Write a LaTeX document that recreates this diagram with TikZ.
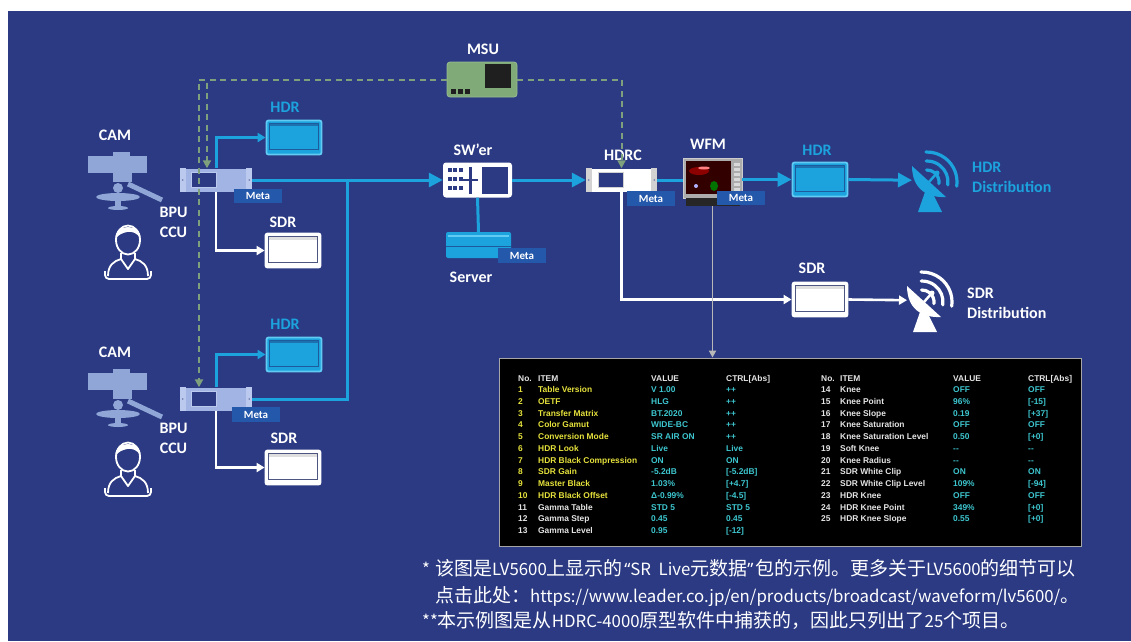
\documentclass[tikz,border=0pt]{standalone}
\usepackage{fontspec}
\setmainfont{Carlito}
\newfontfamily\cjkfont{Noto Sans CJK SC}
\newfontfamily\quotefont{Noto Sans}
\newfontfamily\tabfont{Liberation Sans}
\usetikzlibrary{arrows.meta,calc}

\definecolor{bgnavy}{HTML}{2B3A82}
\definecolor{hdrcyan}{HTML}{1CA3DD}
\definecolor{hdrrim}{HTML}{62CBF3}
\definecolor{hdrdark}{HTML}{1D5C9C}
\definecolor{msugreen}{HTML}{80AA77}
\definecolor{dashgreen}{HTML}{7FA07C}
\definecolor{bpublue}{HTML}{A2B4E4}
\definecolor{bpuend}{HTML}{BCC9EE}
\definecolor{metablue}{HTML}{2458AA}
\definecolor{camblue}{HTML}{90A6D6}
\definecolor{tabyellow}{HTML}{E6E23C}
\definecolor{tabcyan}{HTML}{3DC6CF}
\definecolor{tabwhite}{HTML}{E4E4E4}
\definecolor{wiregrey}{HTML}{B8B8B8}

% Latin runs and quotes inside the Chinese footnotes
\newcommand\lat[1]{{\fontsize{16.8}{20}\selectfont #1}}
\newcommand\oq{{\quotefont\fontsize{17}{20}\selectfont\hspace{1.5pt}“}}
\newcommand\cq{{\quotefont\fontsize{17}{20}\selectfont ”\hspace{1.5pt}}}

% detail drawings for the equipment nodes
\newcommand\hdrmonitor[1]{%
  \fill[hdrdark!70!hdrcyan] ($(#1.north west)+(3.5,3.5)$) rectangle ($(#1.north east)+(-3.5,6.5)$);
  \draw[hdrdark, line width=0.9] ($(#1.north west)+(3.5,3.5)$) rectangle ($(#1.south east)+(-3.5,-5.5)$);
}
\newcommand\sdrmonitor[1]{%
  \fill[gray!25] ($(#1.north west)+(3.5,3.5)$) rectangle ($(#1.north east)+(-3.5,7)$);
  \draw[bgnavy!60!gray, line width=0.9] ($(#1.north west)+(3.5,3.5)$) rectangle ($(#1.south east)+(-3.5,-5.5)$);
}
\newcommand\rackdetail[3]{% node, end colour, screen offset
  \fill[#2] (#1.north west) rectangle ($(#1.south west)+(6,0)$);
  \fill[#2] ($(#1.north east)+(-6,0)$) rectangle (#1.south east);
  \fill[bgnavy!70] ($(#1.west)+(3,0)$) circle[radius=0.9];
  \fill[bgnavy!70] ($(#1.east)+(-3,0)$) circle[radius=0.9];
  \draw[fill=bgnavy, draw=#2, line width=1] ($(#1.north west)+(#3,4)$) rectangle ($(#1.south west)+(#3+25,-4)$);
}

\tikzset{
  lbl/.style={font=\bfseries\fontsize{16}{18}\selectfont, text=white, inner sep=0},
  clbl/.style={lbl, text=hdrcyan},
  metatag/.style={fill=metablue, text=white, font=\bfseries\fontsize{11}{12}\selectfont,
    minimum width=48, minimum height=14.5, inner sep=0},
  rackbox/.style={rectangle, fill=bpublue, minimum width=72, minimum height=23, inner sep=0},
  hdrmon/.style={rectangle, fill=hdrcyan, draw=hdrrim, line width=1.8, rounded corners=2,
    minimum width=55, minimum height=34, inner sep=0},
  sdrmon/.style={rectangle, fill=white, draw=white, line width=1.8, rounded corners=2,
    minimum width=55, minimum height=34, inner sep=0},
  cyanwire/.style={draw=hdrcyan, line width=3},
  whitewire/.style={draw=white, line width=2.6},
  dashwire/.style={draw=dashgreen, line width=2, dash pattern=on 6pt off 4.5pt},
  tipbig/.style={-{Triangle[length=14pt,width=14pt]}},
  tipsmall/.style={-{Triangle[length=8pt,width=9pt]}},
  tabtxt/.style={font=\tabfont\bfseries\fontsize{8.4}{10}\selectfont, inner sep=0, anchor=base west},
  note/.style={font=\cjkfont\fontsize{19}{22}\selectfont, text=white, inner sep=0, anchor=west},
  camicon/.pic={
    \fill[camblue] (25,1) rectangle (42,6);
    \fill[camblue] (0,5) rectangle (59,22);
    \fill[camblue] (25,22) rectangle (44,31);
    \fill[camblue] (30,37) circle[radius=5];
    \draw[camblue, line width=5] (40,33) -- (74,49);
    \fill[camblue] (30,46) ellipse[x radius=22, y radius=4];
    \fill[camblue] (27,46) rectangle (33,56);
    \fill[camblue] (30,57) ellipse[x radius=10, y radius=2];
  },
  personicon/.pic={
    \draw[white, line width=1.8, fill=bgnavy] (23,18) ellipse[x radius=12, y radius=14.5];
    \fill[white] (10.5,17) .. controls (9,1) and (37,1) .. (35.5,17)
      .. controls (33,11) and (27,9) .. (22,10) .. controls (17,11) and (13,13) .. (10.5,17) -- cycle;
    \draw[white, line width=1.8] (16,31) -- (16,37) (30,31) -- (30,37);
    \draw[white, line width=1.8, line join=round] (3,54) .. controls (3,43) and (9,39) .. (16,37)
      -- (23,47) -- (30,37) .. controls (37,39) and (43,43) .. (43,54);
    \draw[white, line width=1.8, rounded corners=4] (0,49) -- (0,57) -- (46,57) -- (46,49);
  },
  antennaicon/.pic={
    \fill (0,14) .. controls (0,36) and (14,46) .. (34,45) -- cycle;
    \draw[line width=2.5] (17,30) -- (24,22);
    \fill (25,21) circle[radius=2.5];
    \fill (13,40) -- (6,60) -- (30,60) -- (22,44) -- cycle;
    \foreach \r in {12,21,30}
      \draw[line width=3.2, line cap=round] (15,30) ++(8:\r) arc[start angle=8, end angle=-92, radius=\r];
  }
}

\begin{document}
\begin{tikzpicture}[x=1pt, y=-1pt]
\useasboundingbox (0,0) rectangle (1131,641);
\fill[white] (0,0) rectangle (1131,641);
\fill[bgnavy] (8,11) rectangle (1131,641);

% ---------- cameras and operators ----------
\pic at (88,151) {camicon};
\pic at (88,368) {camicon};
\pic at (105,222) {personicon};
\pic at (105,439) {personicon};
\node[lbl] (lcam1) at (115,135) {CAM};
\node[lbl] (lcam2) at (115,352) {CAM};
\node[lbl] (lbpu1) at (173.5,212) {BPU};
\node[lbl] (lccu1) at (173.5,232) {CCU};
\node[lbl] (lbpu2) at (173.5,428) {BPU};
\node[lbl] (lccu2) at (173.5,448) {CCU};

% ---------- BPU / CCU ----------
\node[rackbox] (bpu1) at (216,180) {};
\rackdetail{bpu1}{bpuend}{12}
\node[rackbox] (bpu2) at (216,399) {};
\rackdetail{bpu2}{bpuend}{12}
\node[metatag] (meta1) at (258,196) {Meta};
\node[metatag] (meta2) at (256,414.5) {Meta};

% ---------- local monitors ----------
\node[hdrmon] (hdr1) at (294,137.5) {};
\hdrmonitor{hdr1}
\node[hdrmon] (hdr2) at (294,354.5) {};
\hdrmonitor{hdr2}
\node[sdrmon] (sdr1) at (293,250.5) {};
\sdrmonitor{sdr1}
\node[sdrmon] (sdr2) at (293,467.5) {};
\sdrmonitor{sdr2}
\node[clbl] (lhdr1) at (285,107) {HDR};
\node[clbl] (lhdr2) at (285,324) {HDR};
\node[lbl] (lsdr1) at (283,222) {SDR};
\node[lbl] (lsdr2) at (284,438) {SDR};

% ---------- MSU ----------
\node[rectangle, rounded corners=3, fill=msugreen, draw=msugreen!80!white, line width=0.8,
  minimum width=70, minimum height=35, inner sep=0] (msu) at (482,79.5) {};
\fill[black!88] (485,64) rectangle (511,88);
\foreach \k in {0,1,2} \fill[black!88] ({451+\k*7},89) rectangle ({456+\k*7},94);
\node[lbl] (lmsu) at (483,49) {MSU};

% ---------- switcher ----------
\node[rectangle, rounded corners=3, fill=white, minimum width=69, minimum height=35, inner sep=0] (sw) at (477.5,180) {};
\foreach \i in {0,1,2} \foreach \j in {0,1,2}
  \fill[bgnavy] ({448+\i*5.3},{167.5+\j*9}) rectangle ({452+\i*5.3},{171.5+\j*9});
\fill[bgnavy] (468.8,167) rectangle (471.6,194);
\fill[bgnavy] (463,178.6) rectangle (478,181.4);
\fill[bgnavy] (482,166.5) rectangle (507.5,194);
\node[lbl] (lsw) at (473,150) {SW’er};

% ---------- server ----------
\node[rectangle, rounded corners=2, fill=hdrcyan, minimum width=65, minimum height=26, inner sep=0] (srv) at (478.5,245) {};
\draw[hdrrim, line width=1.5] ($(srv.north west)+(2,4)$) -- ($(srv.north east)+(-2,4)$);
\draw[hdrdark, line width=1] ($(srv.west)+(0,1)$) -- ($(srv.east)+(0,1)$);
\node[metatag] (meta3) at (522,255.5) {Meta};
\node[lbl] (lsrv) at (471,277) {Server};

% ---------- HDRC ----------
\node[rectangle, fill=white, minimum width=71, minimum height=23, inner sep=0] (hdrc) at (621.5,180) {};
\rackdetail{hdrc}{gray!35}{13}
\node[metatag] (meta4) at (651,198.5) {Meta};
\node[lbl] (lhdrc) at (623,155) {HDRC};

% ---------- waveform monitor ----------
\node[rectangle, fill=gray!65, draw=gray!40, line width=0.8, minimum width=59, minimum height=40, inner sep=0] (wfm) at (712.5,178) {};
\fill[black!85] (686,198) rectangle (740,206);
\fill[black!80!red] (686,161) rectangle (731,194);
\fill[red!55!black] (699,171) ellipse[x radius=10, y radius=4];
\fill[red!50!white] (704,168) ellipse[x radius=6, y radius=1.5];
\fill[green!45!black] (714,186) ellipse[x radius=4, y radius=5];
\fill[white!70!blue] (696,186) circle[radius=2];
\foreach \k in {0,...,5} \fill[gray!30] (733.5,{163+\k*5}) rectangle (739.5,{166+\k*5});
\node[metatag] (meta5) at (741,198) {Meta};
\node[lbl] (lwfm) at (708,144) {WFM};

% ---------- distribution side ----------
\node[hdrmon] (hdr3) at (820,179.5) {};
\hdrmonitor{hdr3}
\node[sdrmon] (sdr3) at (820,299.5) {};
\sdrmonitor{sdr3}
\node[clbl] (lhdr3) at (817,150) {HDR};
\node[lbl] (lsdr3) at (812,268) {SDR};
\node[inner sep=0, minimum width=48, minimum height=60, anchor=north west] (ant1) at (912,150) {};
\pic[color=hdrcyan] at (912,152) {antennaicon};
\node[inner sep=0, minimum width=48, minimum height=60, anchor=north west] (ant2) at (907,270) {};
\pic[color=white] at (907,272) {antennaicon};
\node[clbl, anchor=west] (lhdrd1) at (972,167) {HDR};
\node[clbl, anchor=west] (lhdrd2) at (972,187) {Distribution};
\node[lbl, anchor=west] (lsdrd1) at (967,293) {SDR};
\node[lbl, anchor=west] (lsdrd2) at (967,313) {Distribution};

% ---------- metadata table ----------
\node[rectangle, fill=black, draw=gray!70, line width=0.8, minimum width=582, minimum height=188, inner sep=0] (tbl) at (790,452) {};
\node[tabtxt, text=tabwhite] (hn1) at (518,381) {No.};
\node[tabtxt, text=tabwhite] (hi1) at (538,381) {ITEM};
\node[tabtxt, text=tabwhite] (hv1) at (651,381) {VALUE};
\node[tabtxt, text=tabwhite] (hc1) at (726,381) {CTRL[Abs]};
\node[tabtxt, text=tabwhite] (hn2) at (821,381) {No.};
\node[tabtxt, text=tabwhite] (hi2) at (840,381) {ITEM};
\node[tabtxt, text=tabwhite] (hv2) at (953,381) {VALUE};
\node[tabtxt, text=tabwhite] (hc2) at (1028,381) {CTRL[Abs]};
\foreach \n/\itm/\va/\ct/\clr [count=\k from 0] in {
  1/Table Version/V 1.00/++/tabyellow,
  2/OETF/HLG/++/tabyellow,
  3/Transfer Matrix/BT.2020/++/tabyellow,
  4/Color Gamut/WIDE-BC/++/tabyellow,
  5/Conversion Mode/SR AIR ON/++/tabyellow,
  6/HDR Look/Live/Live/tabyellow,
  7/HDR Black Compression/ON/ON/tabyellow,
  8/SDR Gain/-5.2dB/[-5.2dB]/tabyellow,
  9/Master Black/1.03\%/[+4.7]/tabyellow,
  10/HDR Black Offset/Δ-0.99\%/[-4.5]/tabyellow,
  11/Gamma Table/STD 5/STD 5/tabwhite,
  12/Gamma Step/0.45/0.45/tabwhite,
  13/Gamma Level/0.95/[-12]/tabwhite}{
  \node[tabtxt, text=\clr] (tn\n) at (518,{392.5+\k*11.75}) {\n};
  \node[tabtxt, text=\clr] (ti\n) at (538,{392.5+\k*11.75}) {\itm};
  \node[tabtxt, text=tabcyan] (tv\n) at (651,{392.5+\k*11.75}) {\va};
  \node[tabtxt, text=tabcyan] (tc\n) at (726,{392.5+\k*11.75}) {\ct};
}
\foreach \n/\itm/\va/\ct [count=\k from 0] in {
  14/Knee/OFF/OFF,
  15/Knee Point/96\%/[-15],
  16/Knee Slope/0.19/[+37],
  17/Knee Saturation/OFF/OFF,
  18/Knee Saturation Level/0.50/[+0],
  19/Soft Knee/-{}-/-{}-,
  20/Knee Radius/-{}-/-{}-,
  21/SDR White Clip/ON/ON,
  22/SDR White Clip Level/109\%/[-94],
  23/HDR Knee/OFF/OFF,
  24/HDR Knee Point/349\%/[+0],
  25/HDR Knee Slope/0.55/[+0]}{
  \node[tabtxt, text=tabwhite] (tn\n) at (821,{392.5+\k*11.75}) {\n};
  \node[tabtxt, text=tabwhite] (ti\n) at (840,{392.5+\k*11.75}) {\itm};
  \node[tabtxt, text=tabcyan] (tv\n) at (953,{392.5+\k*11.75}) {\va};
  \node[tabtxt, text=tabcyan] (tc\n) at (1028,{392.5+\k*11.75}) {\ct};
}

% ---------- footnotes ----------
\node[note] (note1) at (422,568) {\makebox[13pt][l]{\lat{*}}该图是\lat{LV5600}上显示的\oq\lat{SR\ \ Live}元数据\cq 包的示例。更多关于\lat{LV5600}的细节可以};
\node[note] (note2) at (435,597) {点击此处：\lat{https://www.leader.co.jp/en/products/broadcast/waveform/lv5600/}。};
\node[note] (note3) at (422,620) {\lat{**}本示例图是从\lat{HDRC-4000}原型软件中捕获的，因此只列出了\lat{25}个项目。};

% ---------- signal wiring ----------
\coordinate (jn) at (347,180);
\draw[cyanwire, tipsmall] (bpu1.north) |- (hdr1.west);
\draw[cyanwire, tipsmall] (bpu2.north) |- (hdr2.west);
\draw[whitewire, tipsmall] (bpu1.south) |- (sdr1.west);
\draw[whitewire, tipsmall] (bpu2.south) |- (sdr2.west);
\draw[cyanwire, tipbig] (bpu1.east) -- (sw.west);
\draw[cyanwire] (bpu2.east) -| (jn);
\draw[cyanwire, tipbig] (sw.east) -- (hdrc.west);
\draw[cyanwire] (sw.south) -- (srv.north);
\draw[cyanwire] (hdrc.east) -- (hdrc.east -| wfm.west);
\draw[cyanwire, tipbig] (wfm.east |- hdr3.west) -- (hdr3.west);
\draw[cyanwire, tipbig] (hdr3.east) -- (ant1.west);
\draw[whitewire, tipsmall] (hdrc.south) |- (sdr3.west);
\draw[whitewire, tipsmall] (sdr3.east) -- (ant2.west);
\draw[wiregrey, line width=1.8, -{Triangle[length=7pt,width=7pt]}] ($(wfm.south)+(0,8)$) -- (wfm.south |- tbl.north);

% ---------- control (MSU) wiring ----------
\coordinate (dj1) at ($(bpu1.north)+(-9,0)$);
\coordinate (dj2) at ($(bpu2.north)+(-17,0)$);
\draw[dashwire, -{Triangle[length=8pt,width=8pt]}] (msu.west) -| (dj2);
\draw[dashwire, -{Triangle[length=8pt,width=8pt]}] ($(dj1 |- msu.west)+(0,3)$) -- (dj1);
\draw[dashwire, -{Triangle[length=8pt,width=8pt]}] (msu.east) -| (hdrc.north);
\end{tikzpicture}
\end{document}
